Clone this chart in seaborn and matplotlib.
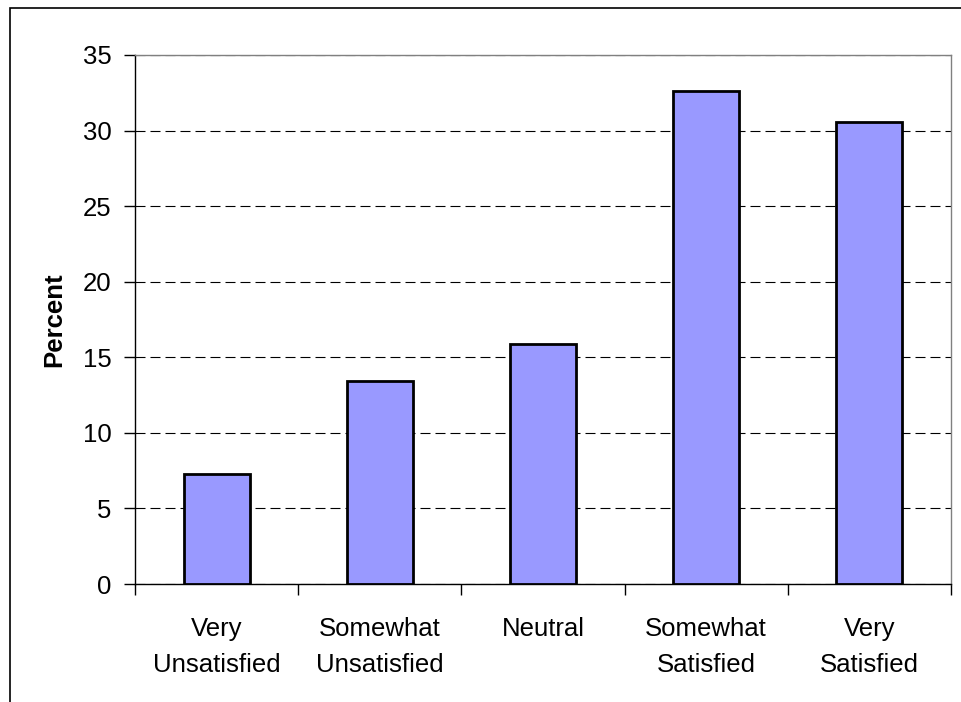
import matplotlib
matplotlib.use("Agg")
import matplotlib.pyplot as plt
from matplotlib.patches import Rectangle
from matplotlib.ticker import FixedLocator
import seaborn as sns
import pandas as pd

# Satisfaction survey results
categories = ["Very\nUnsatisfied", "Somewhat\nUnsatisfied", "Neutral",
              "Somewhat\nSatisfied", "Very\nSatisfied"]
percent = [7.3, 13.4, 15.9, 32.6, 30.6]
y_ticks = [0, 5, 10, 15, 20, 25, 30, 35]

df = pd.DataFrame({"category": categories, "percent": percent})

sns.set_style("white")
plt.rcParams["font.family"] = ["Liberation Sans", "DejaVu Sans"]
plt.rcParams.update({
    "text.color": "black",
    "axes.labelcolor": "black",
    "xtick.color": "black",
    "ytick.color": "black",
})

fig = plt.figure(figsize=(9.61, 7.02), dpi=100)
ax = fig.add_axes([135 / 961, 1 - 584 / 702, (951 - 135) / 961, (584 - 55) / 702])

sns.barplot(data=df, x="category", y="percent", ax=ax, color="#9999FF",
            saturation=1, width=0.405, edgecolor="black", linewidth=2.0,
            zorder=3)

ax.set_xlim(-0.5, len(categories) - 0.5)
ax.set_ylim(0, 35)
ax.set_yticks(y_ticks)
ax.set_yticklabels([str(t) for t in y_ticks], fontsize=18.5)

# category labels centred under the bars, tick marks on the boundaries
ax.set_xticks(range(len(categories)))
ax.set_xticklabels(categories, fontsize=18.5, linespacing=1.6)
ax.xaxis.set_minor_locator(FixedLocator([i - 0.5 for i in range(len(categories) + 1)]))
ax.tick_params(axis="x", which="major", length=0, pad=24)
ax.tick_params(axis="x", which="minor", length=8, width=1, color="black", direction="out", bottom=True)
ax.tick_params(axis="y", which="major", length=8, width=1, color="black", direction="out", left=True, pad=9)

ax.set_xlabel("")
ax.set_ylabel("Percent", fontsize=18.5, fontweight="bold", labelpad=12)

ax.yaxis.grid(True, linestyle=(0, (9, 4.5)), color="black", linewidth=0.8, zorder=0)
ax.set_axisbelow(True)

for side in ("left", "bottom"):
    ax.spines[side].set_color("black")
    ax.spines[side].set_linewidth(1.0)
    ax.spines[side].set_visible(True)
for side in ("top", "right"):
    ax.spines[side].set_color("#808080")
    ax.spines[side].set_linewidth(1.0)
    ax.spines[side].set_visible(True)

# outer chart frame
fig.patches.append(Rectangle((10 / 961, -0.05), 1.1, 1 - 8 / 702 + 0.05,
                             transform=fig.transFigure, fill=False,
                             edgecolor="black", linewidth=1.2))

fig.savefig("out.png", dpi=100)
